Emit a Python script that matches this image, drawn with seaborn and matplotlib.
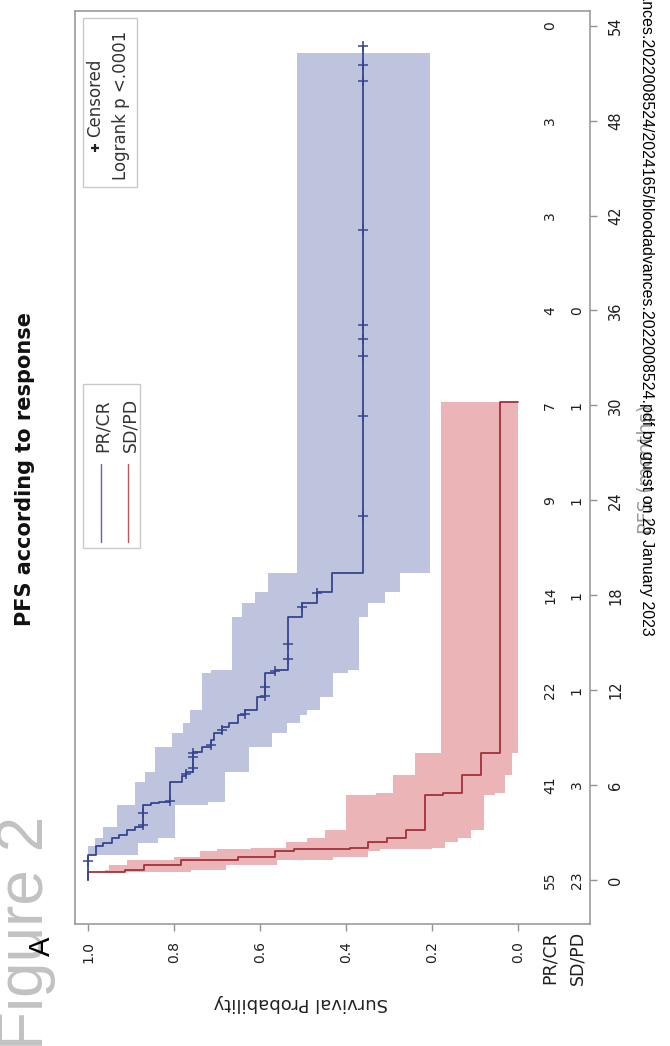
import matplotlib
matplotlib.use("Agg")
import matplotlib.pyplot as plt
from matplotlib.patches import Rectangle
from matplotlib.transforms import blended_transform_factory
import seaborn as sns

# ---- PR/CR group: Kaplan-Meier steps (months, survival after the step) ----
prcr_t = [0, 1.58, 2.15, 2.32, 2.63, 2.84, 3.16, 3.33, 4.74, 4.85, 4.94, 6.21, 6.57,
          6.84, 8.11, 8.43, 8.85, 9.27, 9.70, 9.90, 10.43, 10.75, 11.59, 13.06, 13.27,
          16.64, 17.48, 18.20, 19.38, 52.7]
prcr_s = [1.000, .982, .964, .945, .927, .909, .891, .871, .853, .836, .809, .782, .773,
          .755, .734, .713, .706, .689, .671, .651, .635, .608, .588, .565, .536,
          .503, .468, .433, .360, .360]
# censored observations
prcr_cens_t = [1.2, 3.48, 4.23, 5.0, 6.7, 7.06, 7.79, 8.05, 8.55, 9.48, 10.5, 11.65, 12.2,
               13.2, 13.97, 14.92, 17.27, 18.16, 23.0, 29.35, 33.1, 34.2, 35.1, 41.1,
               50.5, 51.5, 52.7]
prcr_cens_s = [1.0, .871, .871, .809, .773, .755, .755, .755, .713, .689, .635, .588, .588,
               .565, .536, .536, .503, .468, .360, .360, .360, .360, .360, .360,
               .360, .360, .360]
# 95% confidence band
prcr_band_t = [0, 1.58, 2.15, 2.32, 2.63, 3.33, 4.74, 4.94, 6.21, 6.84, 8.43, 9.27, 9.90,
               10.43, 10.75, 11.59, 13.06, 13.27, 16.64, 17.48, 18.20, 19.38, 52.3]
prcr_hi = [1.0, .999, .984, .984, .964, .933, .891, .891, .867, .844, .805, .780, .763,
           .763, .736, .736, .713, .666, .643, .612, .581, .515, .515]
prcr_lo = [1.0, .883, .883, .837, .798, .798, .720, .681, .681, .625, .573, .537, .507,
           .490, .460, .430, .395, .370, .349, .309, .274, .205, .205]

# ---- SD/PD group ----
sdpd_t = [0, 0.52, 0.63, 0.95, 1.26, 1.45, 1.83, 1.95, 2.02, 2.40, 2.63, 3.16, 5.37,
          5.51, 6.64, 8.01, 30.2]
sdpd_s = [1.0, .913, .870, .783, .652, .565, .522, .391, .348, .304, .261, .217, .174,
          .130, .087, .043, 0.0]
sdpd_hi = [1.0, .96, .95, .91, .80, .74, .70, .62, .54, .49, .45, .40, .33,
           .29, .24, .18, .18]
sdpd_lo = [1.0, .76, .68, .56, .43, .35, .32, .20, .17, .14, .11, .08, .053,
           .03, .014, 0.0, 0.0]

# ---- number at risk table ----
risk_times = [0, 6, 12, 18, 24, 30, 36, 42, 48, 54]
risk_prcr = [55, 41, 22, 14, 9, 7, 4, 3, 3, 0]
risk_sdpd = [23, 3, 1, 1, 1, 1, 0]

surv_ticks = [1.0, 0.8, 0.6, 0.4, 0.2, 0.0]
time_ticks = [0, 6, 12, 18, 24, 30, 36, 42, 48, 54]

BLUE_LINE, BLUE_BAND = "#36458f", "#bec4de"
RED_LINE, RED_BAND = "#a3303a", "#ebb4b7"
FRAME = "#939393"
TXT = "#1e1e1e"

sns.set_theme(style="ticks")
plt.rcParams["font.family"] = ["DejaVu Sans"]

W, H = 670, 1046
fig = plt.figure(figsize=(W / 100, H / 100), dpi=100, facecolor="white")


def fx(px):
    return px / W


def fy(py):
    return 1 - py / H


# plot frame in pixel units of the page
L, R, T, B = 75, 590, 11, 924
ax = fig.add_axes([fx(L), fy(B), fx(R) - fx(L), fy(T) - fy(B)])


def axx(px):
    return (px - L) / (R - L)


def axy(py):
    return (B - py) / (B - T)


# confidence bands (time runs up the page, survival decreases to the right)
ax.fill_betweenx(sdpd_t, sdpd_lo, sdpd_hi, step="post", color=RED_BAND, lw=0, zorder=1)
ax.fill_betweenx(prcr_band_t, prcr_lo, prcr_hi, step="post", color=BLUE_BAND, lw=0, zorder=1)

# survival curves
sns.lineplot(x=sdpd_s, y=sdpd_t, orient="y", estimator=None, sort=True,
             drawstyle="steps-pre", color=RED_LINE, lw=1.3, ax=ax, zorder=3)
sns.lineplot(x=prcr_s, y=prcr_t, orient="y", estimator=None, sort=True,
             drawstyle="steps-pre", color=BLUE_LINE, lw=1.3, ax=ax, zorder=3)
sns.scatterplot(x=prcr_cens_s, y=prcr_cens_t, marker="+", s=55, color=BLUE_LINE,
                linewidth=1.1, ax=ax, zorder=4)

ax.set_xlim(1.0302, -0.1674)
ax.set_ylim(-2.78, 54.93)
ax.set_xlabel("")
ax.set_ylabel("")

for sp in ax.spines.values():
    sp.set_visible(True)
    sp.set_color(FRAME)
    sp.set_linewidth(1.1)

ax.set_xticks(surv_ticks)
ax.set_xticklabels([f"{v:.1f}" for v in surv_ticks])
ax.set_yticks(time_ticks)
ax.set_yticklabels([str(v) for v in time_ticks])
ax.yaxis.tick_right()
ax.tick_params(axis="x", bottom=True, top=False, direction="out", length=5, width=1,
               color=FRAME, pad=7, labelsize=10, labelcolor=TXT, labelrotation=90)
ax.tick_params(axis="y", right=True, left=False, direction="out", length=5, width=1,
               color=FRAME, pad=8, labelsize=10.5, labelcolor=TXT, labelrotation=90)
for lab in ax.get_yticklabels():
    lab.set_va("center")

# number at risk inside the frame
col_prcr, col_sdpd = -0.0744, -0.137
for t, n in zip(risk_times, risk_prcr):
    ax.text(col_prcr, t, str(n), rotation=90, ha="center", va="center",
            fontsize=10, color=TXT, zorder=5)
for t, n in zip(risk_times, risk_sdpd):
    ax.text(col_sdpd, t, str(n), rotation=90, ha="center", va="center",
            fontsize=10, color=TXT, zorder=5)
blend = blended_transform_factory(ax.transData, ax.transAxes)
for xc, name in [(col_prcr, "PR/CR"), (col_sdpd, "SD/PD")]:
    ax.text(xc, -0.0077, name, transform=blend, rotation=90, ha="center", va="top",
            fontsize=12.5, color=TXT)

# group legend
ax.add_patch(Rectangle((axx(83), axy(548)), axx(140) - axx(83), axy(384) - axy(548),
                       transform=ax.transAxes, fill=False, ec="#c9c9c9", lw=1, zorder=5))
for xl, xt, name, col in [(101, 108, "PR/CR", "#5a68a8"), (128, 135, "SD/PD", "#c2525c")]:
    ax.plot([axx(xl), axx(xl)], [axy(542), axy(464)], transform=ax.transAxes,
            color=col, lw=1, zorder=5)
    ax.text(axx(xt), axy(452), name, transform=ax.transAxes, rotation=90,
            rotation_mode="anchor", ha="left", va="baseline", fontsize=12.5,
            color="#333333", zorder=5)

# censoring / test legend
ax.add_patch(Rectangle((axx(83), axy(187)), axx(137) - axx(83), axy(18) - axy(187),
                       transform=ax.transAxes, fill=False, ec="#c9c9c9", lw=1, zorder=5))
ax.plot([axx(95)], [axy(148)], transform=ax.transAxes, marker="+", ms=6, mew=1.6,
        color="#222222", zorder=5)
ax.text(axx(100), axy(137), "Censored", transform=ax.transAxes, rotation=90,
        rotation_mode="anchor", ha="left", va="baseline", fontsize=12, color="#333333")
ax.text(axx(126), axy(180), "Logrank p <.0001", transform=ax.transAxes, rotation=90,
        rotation_mode="anchor", ha="left", va="baseline", fontsize=12, color="#333333")

# titles and axis labels
fig.text(fx(31), fy(469), "PFS according to response", rotation=90, rotation_mode="anchor",
         ha="center", va="baseline", fontsize=15, fontweight="bold", color="#111111")
fig.text(fx(301), fy(1003), "Survival Probability", rotation=180, ha="center", va="center",
         fontsize=13, color="#222222")
fig.text(fx(651), fy(469), "PFS (months)", rotation=90, rotation_mode="anchor",
         ha="center", va="baseline", fontsize=14, color="#9c9c9c")

# page furniture
fig.text(fx(43), fy(816), "Figure 2", rotation=90, rotation_mode="anchor", ha="right",
         va="baseline", fontsize=46, color="#c2c2c2", family=["Liberation Sans"])
fig.text(fx(50), fy(946), "A", rotation=90, rotation_mode="anchor", ha="center",
         va="baseline", fontsize=21, color="black", family=["Liberation Sans"])
fig.text(fx(642), fy(636),
         "Downloaded from http://ashpublications.org/bloodadvances/article-pdf/doi/10.1182/"
         "bloodadvances.2022008524/2024165/bloodadvances.2022008524.pdf by guest on 26 January 2023",
         rotation=-90, rotation_mode="anchor", ha="right", va="baseline", fontsize=11.5,
         color="black", family=["Liberation Sans"], zorder=10)

fig.savefig("out.png", dpi=100, facecolor="white")
